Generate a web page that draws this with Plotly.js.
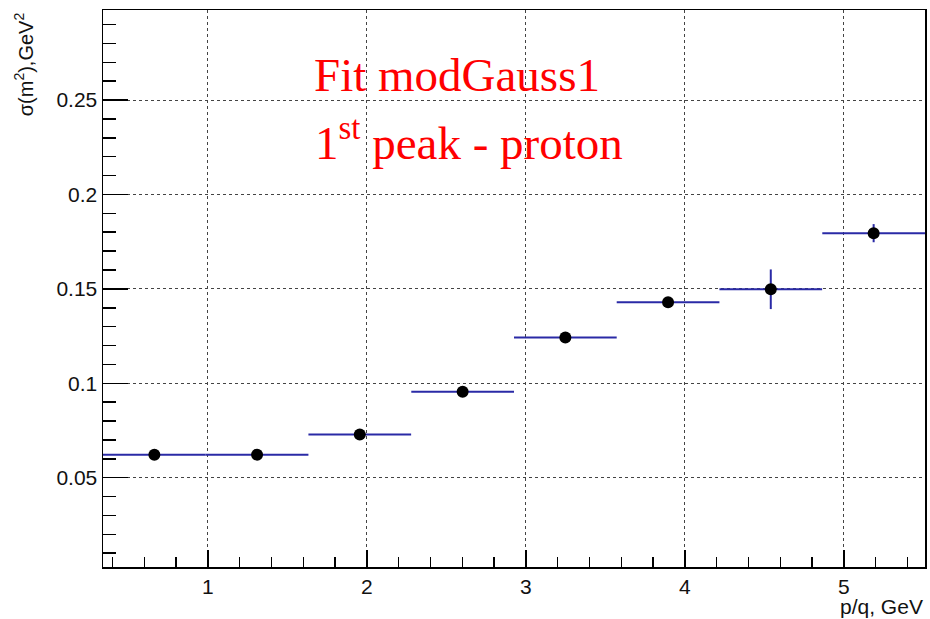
<!DOCTYPE html>
<html>
<head>
<meta charset="utf-8">
<script src="https://cdn.plot.ly/plotly-3.0.1.min.js"></script>
<style>html,body{margin:0;padding:0;background:#fff;}#chart{width:930px;height:619px;}</style>
</head>
<body>
<div id="chart"></div>
<script>
// Data
var binCenters = [0.663, 1.309, 1.955, 2.602, 3.248, 3.894, 4.540, 5.187];
var binHalfWidths = [0.323, 0.323, 0.323, 0.323, 0.323, 0.323, 0.323, 0.323];
var sigmaValues = [0.0622, 0.0622, 0.0729, 0.0955, 0.1243, 0.1429, 0.1498, 0.1795];
var sigmaErrors = [0.0015, 0.0015, 0.0015, 0.0015, 0.0015, 0.0018, 0.0105, 0.0048];
var xTickVals = [1, 2, 3, 4, 5];
var yTickVals = [0.05, 0.1, 0.15, 0.2, 0.25];

var errColor = '#2a2aa6';

var trace = {
  type: 'scatter',
  mode: 'markers',
  x: binCenters,
  y: sigmaValues,
  marker: {color: '#000', size: 12},
  error_x: {type: 'data', array: binHalfWidths, color: errColor, thickness: 2, width: 0},
  error_y: {type: 'data', array: sigmaErrors, color: errColor, thickness: 2, width: 0},
  hoverinfo: 'x+y',
  showlegend: false,
  cliponaxis: true
};

var axisFont = {family: 'Liberation Sans, Arial, sans-serif', size: 21, color: '#111'};

var layout = {
  width: 930, height: 619,
  margin: {l: 103, r: 5, t: 10, b: 52},
  paper_bgcolor: '#fff', plot_bgcolor: '#fff',
  font: axisFont,
  xaxis: {
    range: [0.34, 5.51],
    tickmode: 'array', tickvals: xTickVals,
    ticks: 'inside', ticklen: 17, tickwidth: 1.5, tickcolor: '#000',
    minor: {dtick: 0.2, tick0: 0, ticks: 'inside', ticklen: 10, tickwidth: 1.5, tickcolor: '#000', showgrid: false},
    showgrid: true, gridcolor: '#444', griddash: 'dot', gridwidth: 1,
    showline: true, mirror: true, linecolor: '#000', linewidth: 1.5,
    zeroline: false, tickfont: axisFont
  },
  yaxis: {
    range: [0.0027, 0.2977],
    tickmode: 'array', tickvals: yTickVals,
    ticks: 'inside', ticklen: 25, tickwidth: 1.5, tickcolor: '#000',
    minor: {dtick: 0.01, tick0: 0, ticks: 'inside', ticklen: 13, tickwidth: 1.5, tickcolor: '#000', showgrid: false},
    showgrid: true, gridcolor: '#444', griddash: 'dot', gridwidth: 1,
    showline: true, mirror: true, linecolor: '#000', linewidth: 1.5,
    zeroline: false, tickfont: axisFont
  },
  annotations: [
    {text: 'p/q, GeV', xref: 'paper', yref: 'paper', x: 1, y: -0.047, xanchor: 'right', yanchor: 'top',
     showarrow: false, font: {family: 'Liberation Sans, Arial, sans-serif', size: 21, color: '#111'}},
    {text: 'σ(m<sup>2</sup>),GeV<sup>2</sup>', xref: 'paper', yref: 'paper', x: -0.097, y: 1.0, xanchor: 'center', yanchor: 'top',
     textangle: -90, showarrow: false, font: {family: 'Liberation Sans, Arial, sans-serif', size: 20, color: '#111'}},
    {text: 'Fit modGauss1', xref: 'paper', yref: 'paper', x: (312 - 103) / 822, y: (567 - 75) / 557, xanchor: 'left', yanchor: 'middle',
     showarrow: false, font: {family: 'Liberation Serif, Times New Roman, serif', size: 47, color: '#ff0000'}},
    {text: '1<sup>st</sup> peak - proton', xref: 'paper', yref: 'paper', x: (313 - 103) / 822, y: (567 - 139) / 557, xanchor: 'left', yanchor: 'middle',
     showarrow: false, font: {family: 'Liberation Serif, Times New Roman, serif', size: 47, color: '#ff0000'}}
  ]
};

Plotly.newPlot('chart', [trace], layout, {staticPlot: true, displayModeBar: false});
</script>
</body>
</html>
